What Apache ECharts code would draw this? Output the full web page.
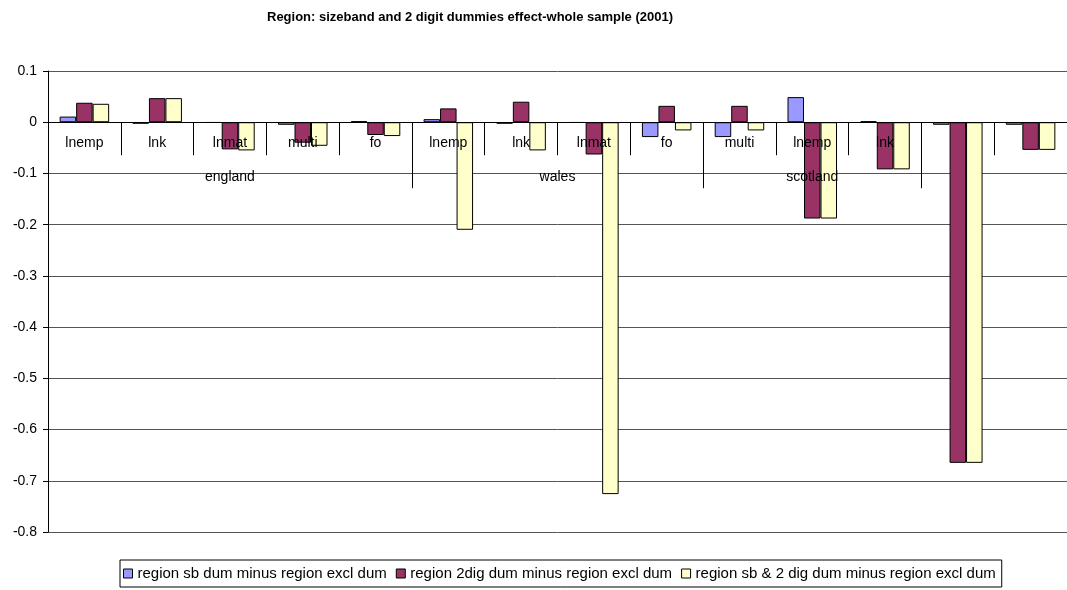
<!DOCTYPE html>
<html>
<head>
<meta charset="utf-8">
<script src="https://cdn.jsdelivr.net/npm/echarts@6/dist/echarts.min.js"></script>
<style>
  html, body { margin: 0; padding: 0; background: #fff; }
  #chart { width: 1067px; height: 590px; }
</style>
</head>
<body>
<div id="chart"></div>
<script>
// categories along the axis (last two have no label in the original)
var categories = ['lnemp', 'lnk', 'lnmat', 'multi', 'fo', 'lnemp', 'lnk', 'lnmat', 'fo', 'multi', 'lnemp', 'lnk', '', ''];
// region groups: name and position (in category units) of the label
var groupNames = ['england', 'wales', 'scotland'];
var groupLabelPos = [2.5, 7, 10.5];
var groupBounds = [0, 5, 9, 12, 14];

var seriesNames = [
    'region sb dum minus region excl dum',
    'region 2dig dum minus region excl dum',
    'region sb & 2 dig dum minus region excl dum'
];
var sbDum = [0.011, -0.003, -0.001, -0.005, 0.002, 0.006, -0.003, -0.001, -0.029, -0.029, 0.049, 0.002, -0.005, -0.005];
var twoDigDum = [0.038, 0.047, -0.053, -0.040, -0.025, 0.027, 0.040, -0.063, 0.032, 0.032, -0.188, -0.092, -0.665, -0.054];
var bothDum = [0.036, 0.047, -0.055, -0.046, -0.027, -0.210, -0.055, -0.726, -0.016, -0.016, -0.188, -0.092, -0.665, -0.054];

var colors = ['#9999ff', '#993366', '#ffffcc'];
var font = 'Liberation Sans, Arial, sans-serif';

var yMin = -0.8, yMax = 0.1;
var gridTop = 71, gridH = 461;
// distance from the grid bottom up to the zero line
var zeroOffset = -gridH * (0 - yMin) / (yMax - yMin);

var myChart = echarts.init(document.getElementById('chart'));

function barSeries(name, data, color) {
    return {
        name: name,
        type: 'bar',
        xAxisIndex: 0,
        data: data,
        barWidth: 16.5,
        barGap: '0%',
        itemStyle: { color: color, borderColor: '#000', borderWidth: 1 }
    };
}

var option = {
    animation: false,
    backgroundColor: '#fff',
    title: {
        text: 'Region: sizeband and 2 digit dummies effect-whole sample (2001)',
        left: 262,
        top: 6,
        textStyle: { fontFamily: font, fontSize: 13, fontWeight: 'bold', color: '#000' }
    },
    legend: {
        left: 120,
        top: 560,
        padding: [6, 6, 6, 3],
        borderColor: '#000',
        borderWidth: 1,
        itemWidth: 9,
        itemHeight: 9,
        itemGap: 9,
        icon: 'rect',
        data: seriesNames.map(function (n, i) {
            return { name: n, itemStyle: { color: colors[i], borderColor: '#000', borderWidth: 1 } };
        }),
        textStyle: { fontFamily: font, fontSize: 15, color: '#000' }
    },
    grid: { left: 48, top: gridTop, width: 1028, height: gridH },
    xAxis: [{
        type: 'category',
        data: categories,
        position: 'bottom',
        offset: zeroOffset,
        z: 5,
        axisLine: { onZero: false, lineStyle: { color: '#000', width: 1 } },
        axisTick: { show: true, interval: 0, length: 33, lineStyle: { color: '#000' } },
        axisLabel: { interval: 0, margin: 14, fontFamily: font, fontSize: 14, color: '#000' },
        splitLine: { show: false }
    }, {
        type: 'value',
        min: 0,
        max: 14,
        position: 'bottom',
        offset: zeroOffset,
        z: 5,
        axisLine: { show: false, onZero: false },
        axisTick: { show: true, customValues: groupBounds, length: 66, lineStyle: { color: '#000' } },
        axisLabel: {
            show: true,
            customValues: groupLabelPos,
            margin: 48,
            fontFamily: font, fontSize: 14, color: '#000',
            formatter: function (v) {
                var i = groupLabelPos.indexOf(v);
                return i >= 0 ? groupNames[i] : '';
            }
        },
        splitLine: { show: false }
    }],
    yAxis: {
        type: 'value',
        min: yMin,
        max: yMax,
        interval: 0.1,
        axisLine: { show: true, lineStyle: { color: '#000' } },
        axisTick: { show: true, length: 5, lineStyle: { color: '#000' } },
        axisLabel: {
            margin: 11, fontFamily: font, fontSize: 14, color: '#000',
            formatter: function (v) { return String(Math.round(v * 10) / 10); }
        },
        splitLine: { show: true, lineStyle: { color: '#555', width: 1 } }
    },
    series: [
        barSeries(seriesNames[0], sbDum, colors[0]),
        barSeries(seriesNames[1], twoDigDum, colors[1]),
        barSeries(seriesNames[2], bothDum, colors[2])
    ]
};
myChart.setOption(option);
</script>
</body>
</html>
